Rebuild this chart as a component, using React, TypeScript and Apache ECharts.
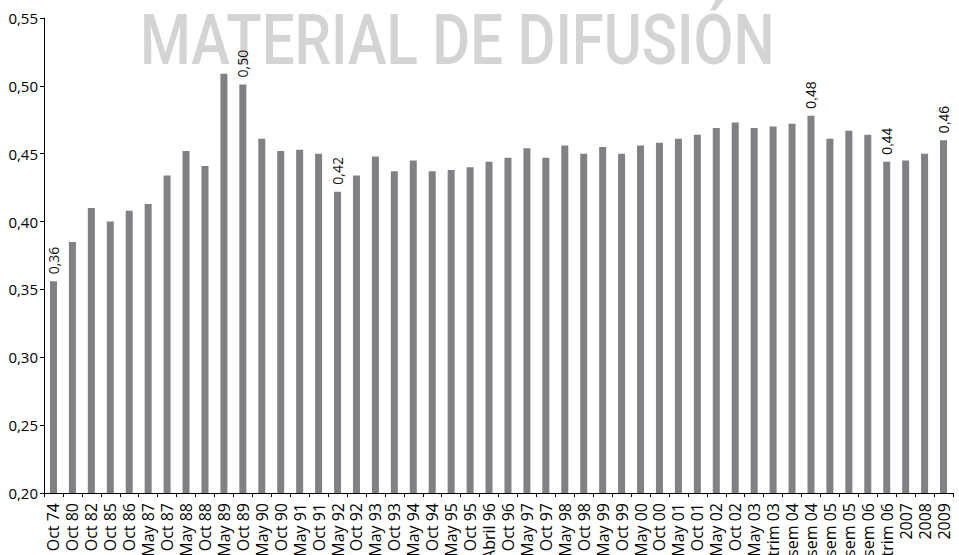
import React, { useEffect, useRef } from "react";
import * as echarts from "echarts";

const categories = [
  "Oct 74", "Oct 80", "Oct 82", "Oct 85", "Oct 86", "May 87", "Oct 87", "May 88", "Oct 88", "May 89",
  "Oct 89", "May 90", "Oct 90", "May 91", "Oct 91", "May 92", "Oct 92", "May 93", "Oct 93", "May 94",
  "Oct 94", "May 95", "Oct 95", "Abril 96", "Oct 96", "May 97", "Oct 97", "May 98", "Oct 98", "May 99",
  "Oct 99", "May 00", "Oct 00", "May 01", "Oct 01", "May 02", "Oct 02", "May 03", "trim 03", "sem 04",
  "sem 04", "sem 05", "sem 05", "sem 06", "trim 06", "2007", "2008", "2009",
];

const values = [
  0.356, 0.385, 0.41, 0.4, 0.408, 0.413, 0.434, 0.452, 0.441, 0.509,
  0.501, 0.461, 0.452, 0.453, 0.45, 0.422, 0.434, 0.448, 0.437, 0.445,
  0.437, 0.438, 0.44, 0.444, 0.447, 0.454, 0.447, 0.456, 0.45, 0.455,
  0.45, 0.456, 0.458, 0.461, 0.464, 0.469, 0.473, 0.469, 0.47, 0.472,
  0.478, 0.461, 0.467, 0.464, 0.444, 0.445, 0.45, 0.46,
];

const labeledIndex = [0, 10, 15, 40, 44, 47];

const yMin = 0.2;
const yMax = 0.55;
const yStep = 0.05;

const titleText = "MATERIAL DE DIFUSIÓN";

const fmt = (v: number) => v.toFixed(2).replace(".", ",");

export default function App() {
  const ref = useRef<HTMLDivElement>(null);
  useEffect(() => {
    if (!ref.current) return;
    const chart = echarts.init(ref.current, undefined, { renderer: "svg" });
    const data = values.map((v, i) => {
      const idx = labeledIndex.indexOf(i);
      if (idx < 0) return v;
      return {
        value: v,
        label: {
          show: true,
          fontFamily: idx < 3 ? "Open Sans" : "Liberation Sans",
        },
      };
    });
    chart.setOption({
      animation: false,
      backgroundColor: "#fff",
      grid: {
        left: 44,
        right: 6,
        top: 18,
        bottom: 62,
        containLabel: false,
        outerBoundsMode: "none",
      },
      graphic: [
        {
          type: "text",
          x: 140,
          y: 40,
          scaleX: 0.83,
          silent: true,
          style: {
            text: titleText,
            fill: "#d4d4d4",
            font: "500 70px Roboto",
            textAlign: "left",
            textVerticalAlign: "middle",
          },
        },
      ],
      xAxis: {
        type: "category",
        data: categories,
        boundaryGap: true,
        axisLine: { lineStyle: { color: "#000", width: 1 } },
        axisTick: { show: true, length: 4, lineStyle: { color: "#000" } },
        axisLabel: {
          interval: 0,
          rotate: 90,
          margin: 10,
          color: "#000",
          fontSize: 16,
          fontFamily: "Open Sans",
        },
      },
      yAxis: {
        type: "value",
        min: yMin,
        max: yMax,
        interval: yStep,
        axisLine: { show: true, lineStyle: { color: "#000", width: 1 } },
        axisTick: { show: true, length: 4, lineStyle: { color: "#000" } },
        splitLine: { show: false },
        axisLabel: {
          margin: 6,
          color: "#000",
          fontSize: 15,
          fontFamily: "Open Sans",
          formatter: (v: number) => fmt(v),
        },
      },
      series: [
        {
          type: "bar",
          data,
          barWidth: 7,
          itemStyle: { color: "#808185" },
          labelLayout: { rotate: 90 },
          label: {
            show: false,
            position: "top",
            rotate: 90,
            align: "left",
            verticalAlign: "middle",
            distance: 7,
            color: "#111",
            fontSize: 14,
            formatter: (p: any) => fmt(p.value),
          },
        },
      ],
    });
    return () => chart.dispose();
  }, []);
  return (
    <div
      ref={ref}
      style={{ position: "fixed", left: 0, top: 0, width: 959, height: 555 }}
    />
  );
}
